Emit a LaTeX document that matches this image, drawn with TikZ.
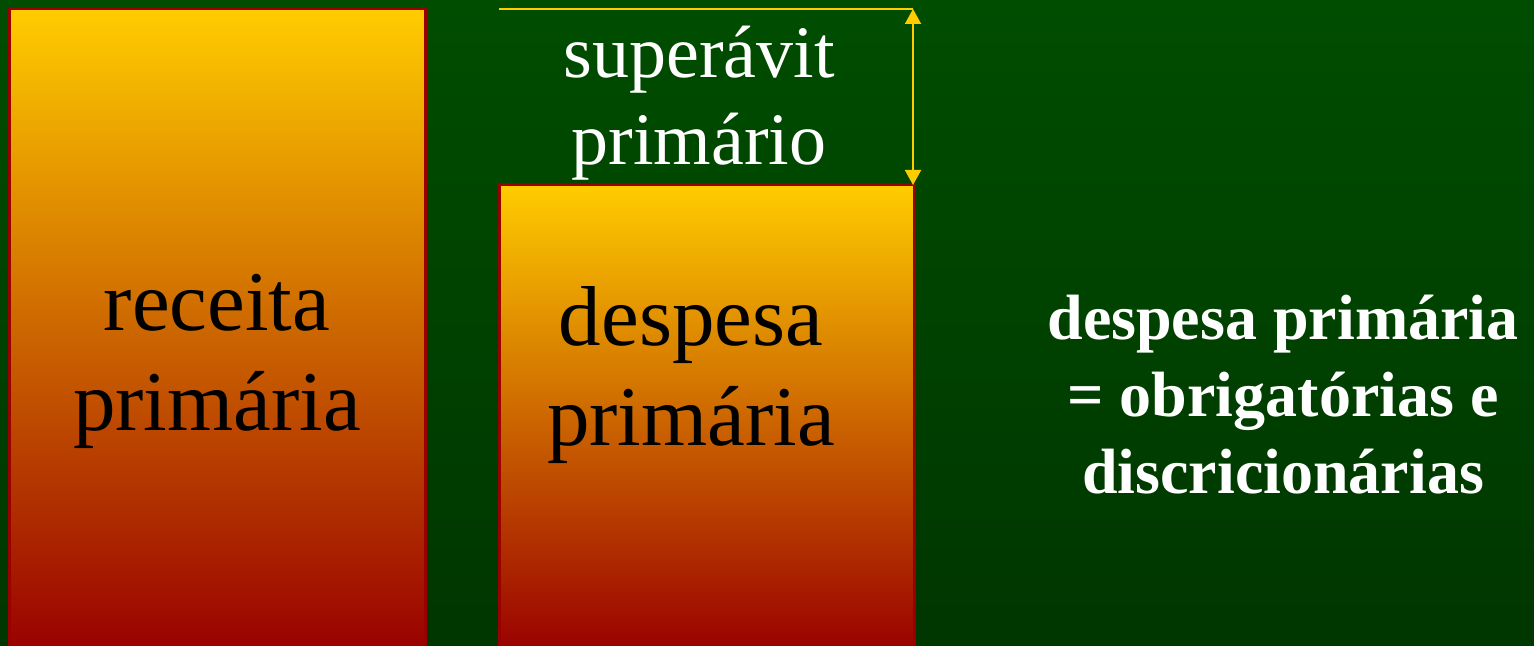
\documentclass[tikz,border=0pt]{standalone}
\usepackage{fontspec}
\setmainfont{Liberation Serif}
\usetikzlibrary{arrows.meta}
\definecolor{bggreenT}{HTML}{004D00}
\definecolor{bggreenB}{HTML}{003600}
\definecolor{baryellow}{HTML}{FFCC00}
\definecolor{barred}{HTML}{990000}

\begin{document}
\begin{tikzpicture}[x=0.5pt,y=0.5pt,>={Triangle[width=8pt,length=7.5pt]},
	bar/.style={draw=barred,line width=1.5pt,top color=baryellow,bottom color=barred},
	bigtext/.style={inner sep=0pt,align=center,font=\fontsize{42.5}{50}\selectfont}]
	\clip (0,0) rectangle (1534,646);
	\fill [top color=bggreenT,bottom color=bggreenB] (0,0) rectangle (1534,646);
%	\draw [help lines] (0,0) grid (1534,646);
	\draw [bar] (9,-6) rectangle (425,637);
	\draw [bar] (499,-6) rectangle (914,461);
	\coordinate (lineL) at (499,637);
	\coordinate (arrT) at (913,637);
	\coordinate (arrB) at (913,461);
	\draw [baryellow,line width=1pt] (lineL) -- (arrT);
	\draw [<->,baryellow,line width=1pt] (arrT) -- (arrB);
	\node [bigtext] (receita) at (217,285) {receita\\prim\'aria};
	\node [bigtext] (despesa) at (691,271) {despesa\\prim\'aria};
	\node [bigtext,white,font=\fontsize{37}{43.5}\selectfont] (superavit) at (699,543) {super\'avit\\prim\'ario};
	\node [bigtext,white,font=\fontsize{32}{38.5}\selectfont\bfseries] (soma) at (1283,251) {despesa prim\'aria\\= obrigat\'orias e\\discricion\'arias};
\end{tikzpicture}
\end{document}
